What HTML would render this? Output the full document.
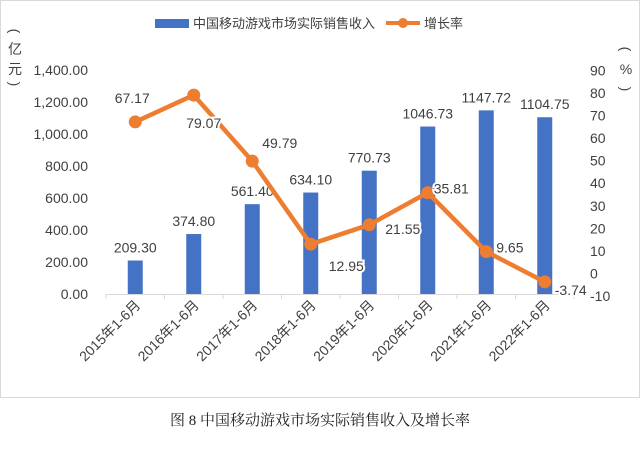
<!DOCTYPE html>
<html><head><meta charset="utf-8"><style>
body{margin:0;background:#fff;width:640px;height:445px;overflow:hidden}
text{font-family:"Liberation Sans","Noto Sans CJK SC",sans-serif;fill:#404040}
</style></head><body>
<svg id="chart" width="640" height="445" xmlns="http://www.w3.org/2000/svg">
<rect x="0.5" y="0.5" width="639" height="397" fill="#fff" stroke="#d9d9d9"/>
<g>
<rect x="155" y="19" width="34" height="9" fill="#4472c4"/>
<text x="193" y="28" font-size="13">中国移动游戏市场实际销售收入</text>
<line x1="386" y1="23" x2="420" y2="23" stroke="#ed7d31" stroke-width="4"/>
<circle cx="403" cy="23" r="5" fill="#ed7d31"/>
<text x="424" y="28" font-size="13">增长率</text>
</g>
<g font-size="14" text-anchor="middle">
<text x="15" y="36" transform="rotate(90 15 31)">(</text>
<text x="15" y="54">亿</text>
<text x="15" y="74">元</text>
<text x="15" y="89" transform="rotate(90 15 84)">)</text>
</g>
<g font-size="14" text-anchor="middle">
<text x="626" y="54" transform="rotate(90 626 49)">(</text>
<text x="626" y="74">%</text>
<text x="626" y="94" transform="rotate(90 626 89)">)</text>
</g>
<g id="plot"></g>
<text x="320" y="425" text-anchor="middle" font-size="15" style="font-family:'Liberation Serif','Noto Serif CJK SC',serif;fill:#222">图 8  中国移动游戏市场实际销售收入及增长率</text>
</svg>
<script>
const categories=["2015年1-6月","2016年1-6月","2017年1-6月","2018年1-6月","2019年1-6月","2020年1-6月","2021年1-6月","2022年1-6月"];
const revenue=[209.30,374.80,561.40,634.10,770.73,1046.73,1147.72,1104.75];
const growth=[67.17,79.07,49.79,12.95,21.55,35.81,9.65,-3.74];
const leftTicks=[0,200,400,600,800,1000,1200,1400];
const rightTicks=[-10,0,10,20,30,40,50,60,70,80,90];
const growthLabelDx=[-3,10,10,18,16,6,10,10];
const growthLabelDy=[-24,28,-18,22,4,-4,-4,8];
const growthLabelAnchor=["middle","middle","start","start","start","start","start","start"];
const NS="http://www.w3.org/2000/svg";
const g=document.getElementById('plot');
const X0=106,STEP=58.5;
const xC=i=>X0+STEP*(i+0.5);
const yL=v=>294-v*0.16;
const yR=v=>273.4-v*2.255;
function mk(tag,attrs,txt){const e=document.createElementNS(NS,tag);for(const k in attrs)e.setAttribute(k,attrs[k]);if(txt!==undefined)e.textContent=txt;g.appendChild(e);return e;}
const fmt=v=>v.toLocaleString('en-US',{minimumFractionDigits:2,maximumFractionDigits:2});
leftTicks.forEach(t=>{const e=mk('text',{x:88,y:yL(t)+5,'text-anchor':'end','font-size':14},fmt(t));

});
rightTicks.forEach(t=>{const e=mk('text',{x:590,y:yR(t)+5,'font-size':14},String(t));

});
const ax=mk('line',{x1:X0,y1:294.5,x2:X0+STEP*8,y2:294.5,stroke:'#d9d9d9'});


for(let i=0;i<=8;i++){const t=mk('line',{x1:X0+STEP*i,y1:294,x2:X0+STEP*i,y2:299,stroke:'#d9d9d9'});

}
revenue.forEach((v,i)=>{const b=mk('rect',{x:xC(i)-7.5,y:yL(v),width:15,height:294-yL(v),fill:'#4472c4'});


const lb=mk('text',{x:xC(i),y:yL(v)-8,'text-anchor':'middle','font-size':14,stroke:'#fff','stroke-width':4,'paint-order':'stroke'},v.toFixed(2));

});
const pts=growth.map((v,i)=>xC(i)+','+yR(v)).join(' ');
const pl=mk('polyline',{points:pts,fill:'none',stroke:'#ed7d31','stroke-width':4.5,'stroke-linejoin':'round'});


growth.forEach((v,i)=>{const c=mk('circle',{cx:xC(i),cy:yR(v),r:6.5,fill:'#ed7d31'});


const lb=mk('text',{x:xC(i)+growthLabelDx[i],y:yR(v)+growthLabelDy[i]+5,'text-anchor':growthLabelAnchor[i],'font-size':14,stroke:'#fff','stroke-width':4,'paint-order':'stroke'},v.toFixed(2));

});
categories.forEach((c,i)=>{const x=xC(i)+6,y=306;const t=mk('text',{x:x,y:y,'text-anchor':'end','font-size':14,transform:`rotate(-45 ${x} ${y})`},c);

});
</script>
</body></html>
